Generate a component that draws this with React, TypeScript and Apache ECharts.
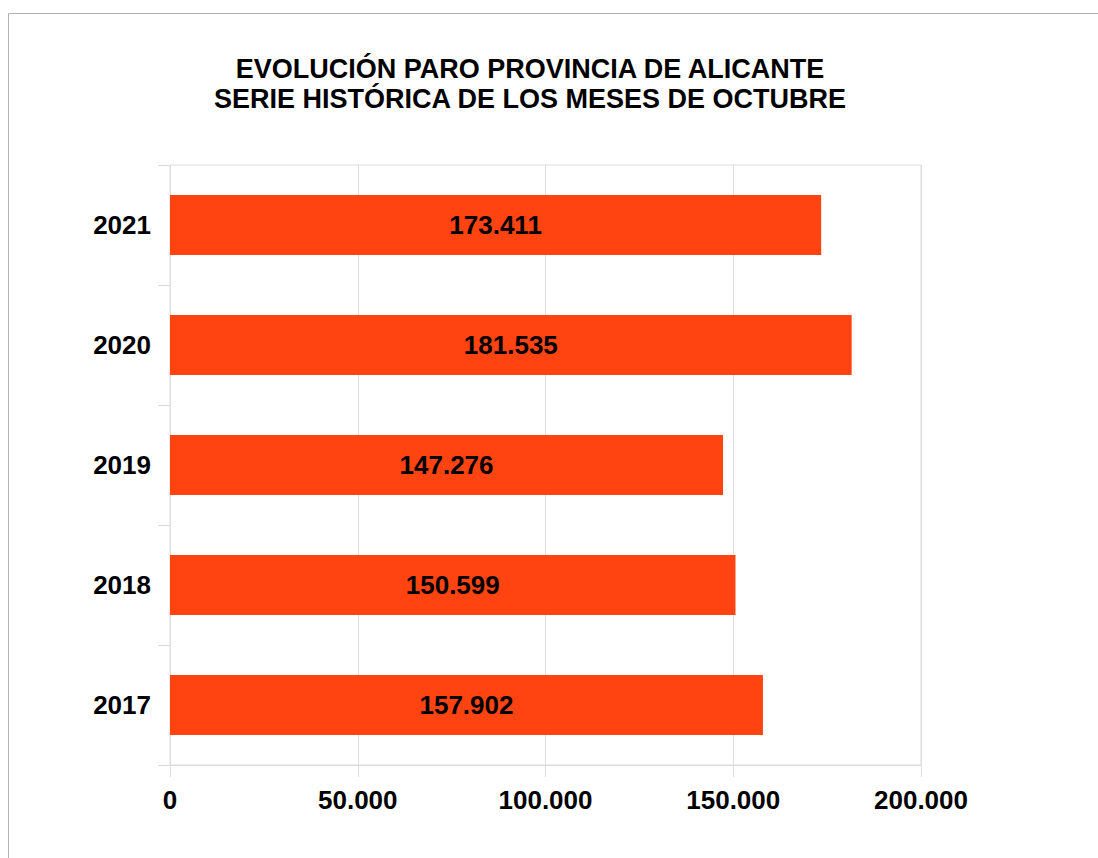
import React, { useEffect, useRef } from "react";
import * as echarts from "echarts";

const titleLines = [
  "EVOLUCIÓN PARO PROVINCIA DE ALICANTE",
  "SERIE HISTÓRICA DE LOS MESES DE OCTUBRE",
];
const years = ["2017", "2018", "2019", "2020", "2021"];
const paro = [157902, 150599, 147276, 181535, 173411];
const axisMin = 0;
const axisMax = 200000;
const axisInterval = 50000;

const fmt = (v: number) =>
  String(Math.round(v)).replace(/\B(?=(\d{3})+(?!\d))/g, ".");

const FONT = "'Liberation Sans', Arial, sans-serif";

export default function App() {
  const ref = useRef<HTMLDivElement>(null);
  useEffect(() => {
    if (!ref.current) return;
    const chart = echarts.init(ref.current, null, { renderer: "svg" });
    chart.setOption({
      animation: false,
      backgroundColor: "#ffffff",
      textStyle: { fontFamily: FONT },
      title: {
        text: titleLines.join("\n"),
        left: 525,
        top: 49,
        textAlign: "center",
        textStyle: {
          fontFamily: FONT,
          fontWeight: "bold",
          fontSize: 27,
          lineHeight: 30,
          color: "#000",
        },
      },
      graphic: [
        {
          type: "line",
          shape: { x1: 8.5, y1: 13.5, x2: 1098, y2: 13.5 },
          style: { stroke: "#b3b3b3", lineWidth: 1 },
        },
        {
          type: "line",
          shape: { x1: 8.5, y1: 13.5, x2: 8.5, y2: 858 },
          style: { stroke: "#b3b3b3", lineWidth: 1 },
        },
      ],
      grid: {
        left: 170,
        right: 177,
        top: 165,
        bottom: 93,
        show: true,
        borderColor: "#dddddd",
        borderWidth: 1,
        containLabel: false,
      },
      xAxis: {
        type: "value",
        min: axisMin,
        max: axisMax,
        interval: axisInterval,
        axisLine: { show: true, lineStyle: { color: "#dddddd" } },
        axisTick: { show: true, length: 12, lineStyle: { color: "#dddddd" } },
        splitLine: { show: true, lineStyle: { color: "#dddddd" } },
        axisLabel: {
          formatter: (v: number) => fmt(v),
          fontFamily: FONT,
          fontWeight: "bold",
          fontSize: 26,
          color: "#000",
          margin: 22,
        },
      },
      yAxis: {
        type: "category",
        data: years,
        axisLine: { show: true, lineStyle: { color: "#dddddd" } },
        axisTick: { show: true, length: 12, lineStyle: { color: "#dddddd" } },
        splitLine: { show: false },
        axisLabel: {
          fontFamily: FONT,
          fontWeight: "bold",
          fontSize: 26,
          color: "#000",
          margin: 19,
        },
      },
      series: [
        {
          type: "bar",
          data: paro,
          barWidth: "50%",
          itemStyle: { color: "#ff4411" },
          label: {
            show: true,
            position: "inside",
            formatter: (p: any) => fmt(p.value),
            fontFamily: FONT,
            fontWeight: "bold",
            fontSize: 26,
            color: "#000",
          },
        },
      ],
    });
    return () => chart.dispose();
  }, []);
  return (
    <div
      ref={ref}
      style={{ position: "absolute", left: 0, top: 0, width: 1098, height: 858 }}
    />
  );
}
